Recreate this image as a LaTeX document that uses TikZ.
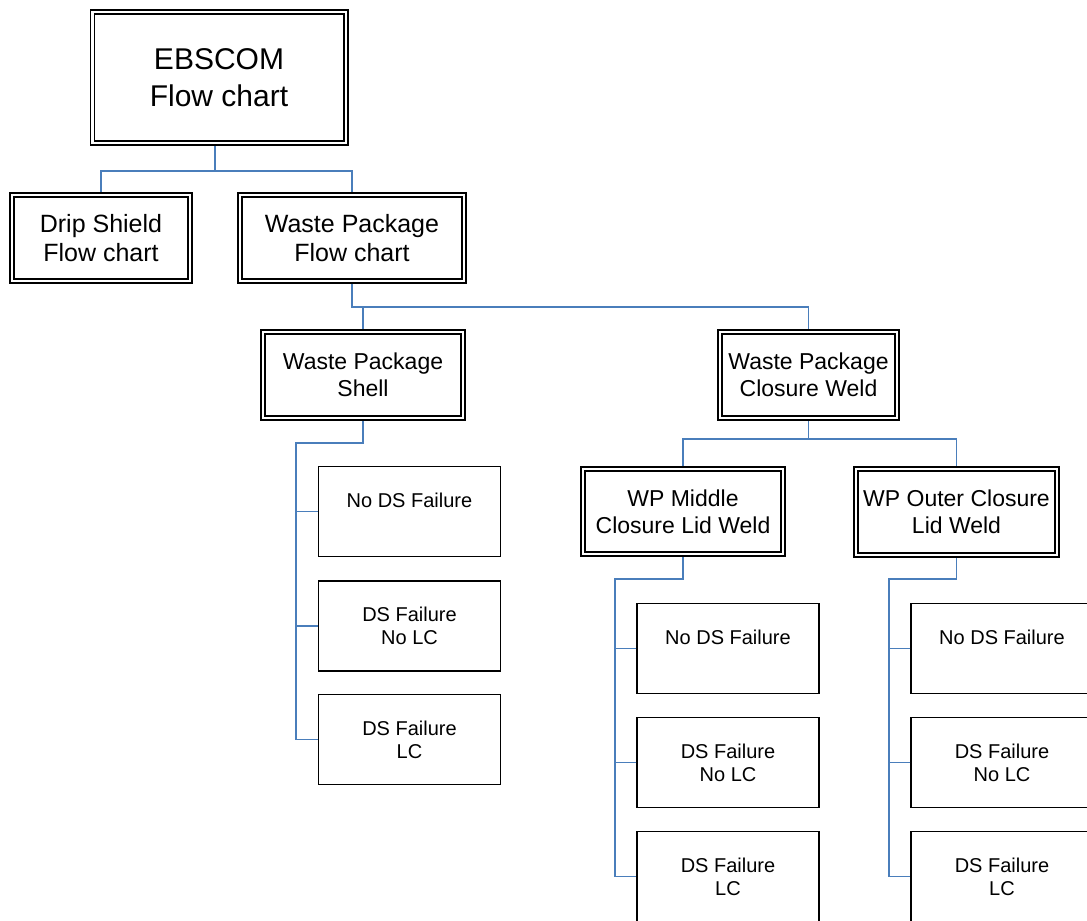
\documentclass[tikz,border=0pt]{standalone}
\usepackage{fontspec}
\setmainfont{Liberation Sans}
\definecolor{conn}{HTML}{4A7EBB}
\tikzset{
  dbox/.style={draw=black, double=white, line width=1.8pt, double distance=2.2pt,
    outer sep=2.9pt, inner sep=0pt, align=center},
  leaf/.style={draw=black, line width=1.5pt, inner sep=0pt, align=center,
    minimum width=182pt, minimum height=90pt, font=\fontsize{20}{23}\selectfont},
  bigf/.style={font=\fontsize{30}{37}\selectfont},
  midf/.style={font=\fontsize{25}{29}\selectfont},
  smf/.style={font=\fontsize{23}{27}\selectfont},
  conline/.style={draw=conn, line width=1.6pt}
}
\begin{document}
\begin{tikzpicture}[x=1pt,y=-1pt]
\useasboundingbox (0,0) rectangle (1087,921);
\clip (0,0) rectangle (1087,921);
\fill[white] (0,0) rectangle (1087,921);

% junction coordinates
\coordinate (j1) at (215,171);
\coordinate (j2) at (352,307);
\coordinate (j3) at (296,443);
\coordinate (j4) at (808.5,439);
\coordinate (j5) at (615,579);
\coordinate (j6) at (889,579);

% double-border boxes
\node[dbox, bigf, minimum width=253.2pt, minimum height=131.2pt] (e) at (219,77.5) {EBSCOM\\Flow chart};
\node[dbox, midf, minimum width=178.2pt, minimum height=86.2pt] (drip) at (101,238) {Drip Shield\\Flow chart};
\node[dbox, midf, minimum width=224.2pt, minimum height=86.2pt] (wpfc) at (352,238) {Waste Package\\Flow chart};
\node[dbox, smf, minimum width=200.2pt, minimum height=86.2pt] (shell) at (363,375) {Waste Package\\Shell};
\node[dbox, smf, minimum width=177.2pt, minimum height=86.2pt] (cw) at (808.5,375) {Waste Package\\Closure Weld};
\node[dbox, smf, minimum width=200.2pt, minimum height=85.2pt] (mid) at (683,511.5) {WP Middle\\Closure Lid Weld};
\node[dbox, smf, minimum width=201.2pt, minimum height=86.2pt] (out) at (956.5,512) {WP Outer Closure\\Lid Weld};

% leaf boxes
\node[leaf] (a1) at (409.5,511.5) {No DS Failure\\\mbox{}};
\node[leaf] (a2) at (409.5,626) {DS Failure\\No LC};
\node[leaf] (a3) at (409.5,739.5) {DS Failure\\LC};
\node[leaf] (b1) at (728,648.5) {No DS Failure\\\mbox{}};
\node[leaf] (b2) at (728,762.5) {DS Failure\\No LC};
\node[leaf] (b3) at (728,876.5) {DS Failure\\LC};
\node[leaf] (c1) at (1002,648.5) {No DS Failure\\\mbox{}};
\node[leaf] (c2) at (1002,762.5) {DS Failure\\No LC};
\node[leaf] (c3) at (1002,876.5) {DS Failure\\LC};

% connectors
\draw[conline] ([xshift=-4pt]e.south) -- (j1);
\draw[conline] (drip.north) |- (j1) -| (wpfc.north);
\draw[conline] (wpfc.south) -- (j2) -| (cw.north);
\draw[conline] (shell.north) -- (shell.north |- j2);
\draw[conline] (shell.south) |- (j3) |- (a3.west);
\draw[conline] (a1.west) -- (a1.west -| j3);
\draw[conline] (a2.west) -- (a2.west -| j3);
\draw[conline] (cw.south) -- (j4);
\draw[conline] (mid.north) |- (j4) -| (out.north);
\draw[conline] (mid.south) |- (j5) |- (b3.west);
\draw[conline] (b1.west) -- (b1.west -| j5);
\draw[conline] (b2.west) -- (b2.west -| j5);
\draw[conline] (out.south) |- (j6) |- (c3.west);
\draw[conline] (c1.west) -- (c1.west -| j6);
\draw[conline] (c2.west) -- (c2.west -| j6);
\end{tikzpicture}
\end{document}
